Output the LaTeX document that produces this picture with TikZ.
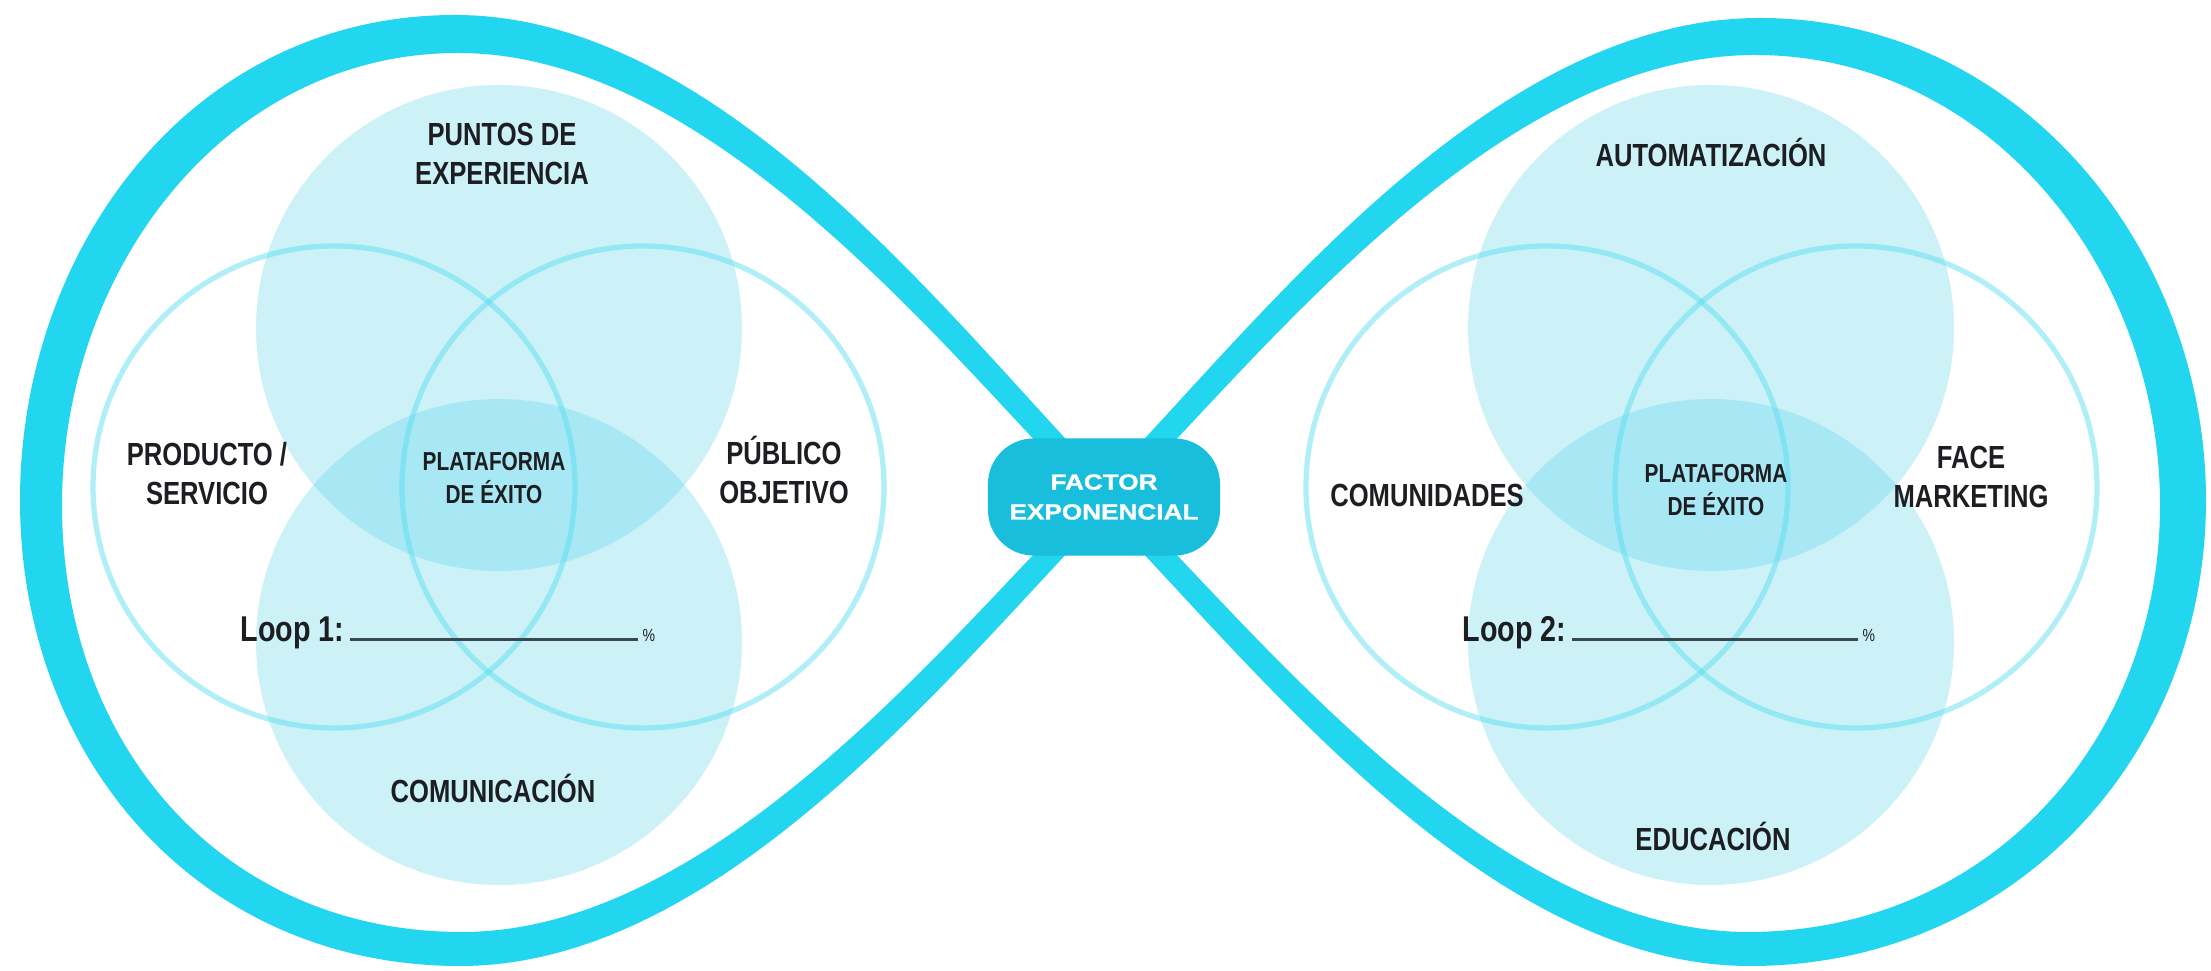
\documentclass[tikz,border=0pt]{standalone}
\usepackage{fontspec}
\usetikzlibrary{positioning}
\newfontfamily\labelfont[FakeStretch=0.8]{Liberation Sans}
\newfontfamily\pillfont[FakeStretch=1.2,FakeBold=1.2]{Liberation Sans}
\definecolor{loopcyan}{RGB}{34,214,240}
\definecolor{pillcyan}{RGB}{24,190,220}
\definecolor{venncyan}{RGB}{88,212,235}
\definecolor{ringcyan}{RGB}{80,220,240}
\definecolor{ink}{RGB}{28,30,34}
\definecolor{rulegray}{RGB}{60,72,80}

\begin{document}
\begin{tikzpicture}[x=0.01cm, y=-0.01cm,
    lobe/.style={fill=loopcyan, even odd rule},
    vennfill/.style={fill=venncyan, fill opacity=0.3},
    vennring/.style={draw=ringcyan, draw opacity=0.45, line width=1.5pt},
    lbl/.style={text=ink, align=center, inner sep=0pt, font=\labelfont\bfseries\fontsize{9.1}{11.1}\selectfont},
    centro/.style={lbl, font=\labelfont\bfseries\fontsize{7.4}{9.4}\selectfont},
    looplbl/.style={text=ink, inner sep=0pt, anchor=base west, font=\labelfont\bfseries\fontsize{10.2}{12}\selectfont},
    pct/.style={text=ink, inner sep=0pt, anchor=base west, font=\labelfont\fontsize{5}{6}\selectfont},
    pill/.style={fill=pillcyan, rounded corners=13pt, minimum width=2.32cm, minimum height=1.17cm,
      text=white, align=center, inner sep=0pt, font=\pillfont\bfseries\fontsize{6.2}{8.5}\selectfont}]
  \useasboundingbox (0,0) rectangle (2211,971);
  \fill[white] (0,0) rectangle (2211,971);

  \fill[lobe] (1121,497) .. controls (965,341) and (730,15) .. (455,15)
      .. controls (190,15) and (20,250) .. (20,500)
      .. controls (20,760) and (200,966) .. (460,966)
      .. controls (730,966) and (965,653) .. (1121,497) -- cycle
    (1089,497) .. controls (950,358) and (715,53) .. (458,53)
      .. controls (225,53) and (62,270) .. (62,505)
      .. controls (62,745) and (222,932) .. (462,932)
      .. controls (715,932) and (950,636) .. (1089,497) -- cycle;
  \fill[lobe] (1089,497) .. controls (1245,341) and (1480,18) .. (1760,18)
      .. controls (2020,18) and (2206,250) .. (2206,500)
      .. controls (2206,760) and (2010,966) .. (1750,966)
      .. controls (1480,966) and (1245,653) .. (1089,497) -- cycle
    (1121,497) .. controls (1260,358) and (1495,55) .. (1755,55)
      .. controls (1990,55) and (2160,270) .. (2160,505)
      .. controls (2160,745) and (1985,932) .. (1748,932)
      .. controls (1495,932) and (1260,636) .. (1121,497) -- cycle;

  \fill[vennfill] (499,328) circle (243);
  \fill[vennfill] (499,642) circle (243);
  \draw[vennring] (334,487) circle (241);
  \draw[vennring] (643,487) circle (241);

  \fill[vennfill] (1711,328) circle (243);
  \fill[vennfill] (1711,642) circle (243);
  \draw[vennring] (1547,487) circle (241);
  \draw[vennring] (1856,487) circle (241);

  \node[pill] (factor) at (1104,497) {FACTOR\\EXPONENCIAL};

  \node[lbl] (puntos) at (502,154) {PUNTOS DE\\EXPERIENCIA};
  \node[lbl] (producto) at (207,474) {PRODUCTO /\\SERVICIO};
  \node[centro] (plat1) at (494,478) {PLATAFORMA\\DE ÉXITO};
  \node[lbl] (publico) at (784,470) {PÚBLICO\\OBJETIVO};
  \node[lbl, anchor=base] (comunic) at (493,803) {COMUNICACIÓN};
  \node[looplbl] (loop1) at (240,642) {Loop 1:};
  \node[pct] (pct1) at (642,642) {\%};
  \draw[rulegray, line width=0.8pt] ([xshift=1.4pt,yshift=0.6pt]loop1.base east) -- ([xshift=-1.1pt,yshift=0.6pt]pct1.base west);

  \node[lbl, anchor=base] (autom) at (1711,167) {AUTOMATIZACIÓN};
  \node[lbl, anchor=base] (comunid) at (1427,507) {COMUNIDADES};
  \node[centro] (plat2) at (1716,490) {PLATAFORMA\\DE ÉXITO};
  \node[lbl] (face) at (1971,477) {FACE\\MARKETING};
  \node[lbl, anchor=base] (educ) at (1713,851) {EDUCACIÓN};
  \node[looplbl] (loop2) at (1462,642) {Loop 2:};
  \node[pct] (pct2) at (1862,642) {\%};
  \draw[rulegray, line width=0.8pt] ([xshift=1.4pt,yshift=0.6pt]loop2.base east) -- ([xshift=-1.1pt,yshift=0.6pt]pct2.base west);
\end{tikzpicture}
\end{document}
